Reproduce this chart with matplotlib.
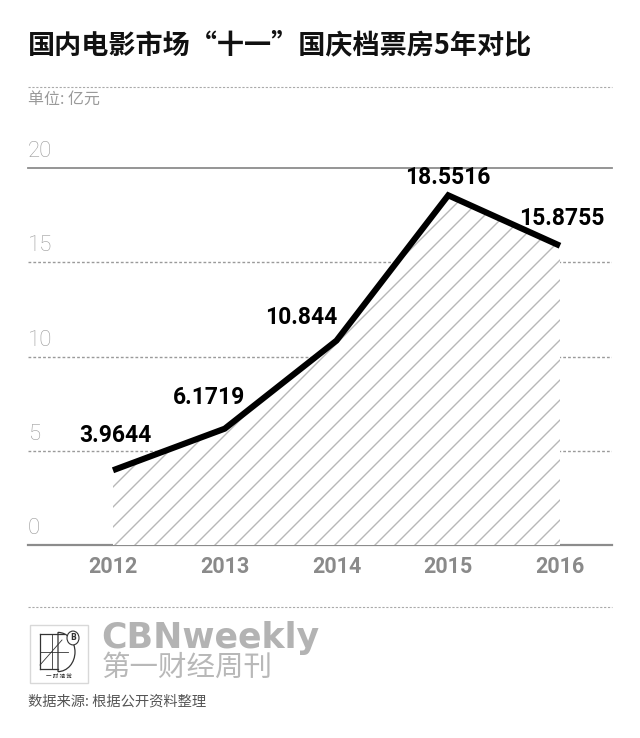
import matplotlib
matplotlib.use("Agg")
import matplotlib.pyplot as plt
from matplotlib.lines import Line2D
from matplotlib.patches import Rectangle, Circle, Wedge
from matplotlib.backend_bases import GraphicsContextBase

# denser hatch spacing (style only)
_orig_ghp = GraphicsContextBase.get_hatch_path
def _ghp(self, density=5.0):
    return _orig_ghp(self, density)
GraphicsContextBase.get_hatch_path = _ghp
plt.rcParams["hatch.linewidth"] = 1.0

years = [2012, 2013, 2014, 2015, 2016]
values = [3.9644, 6.1719, 10.844, 18.5516, 15.8755]
value_labels = ["3.9644", "6.1719", "10.844", "18.5516", "15.8755"]
yticks = [0, 5, 10, 15, 20]

title = "国内电影市场“十一”国庆档票房5年对比"
unit = "单位: 亿元"
source = "数据来源: 根据公开资料整理"

W, H = 640, 738
fig = plt.figure(figsize=(W / 100, H / 100), dpi=100)
fig.patch.set_facecolor("white")

def fx(px):
    return px / W

def fy(py):
    return 1 - py / H

CJK = ["Noto Sans CJK SC", "DejaVu Sans"]

ax = fig.add_axes([fx(28), fy(545), fx(612) - fx(28), fy(168) - fy(545)])
ax.set_ylim(0, 20)
px_per_year = 111.75
ax.set_xlim(2012 - 85 / px_per_year, 2016 + 52 / px_per_year)
for s in ax.spines.values():
    s.set_visible(False)
ax.set_yticks([])
ax.set_xticks(years)
ax.set_xticklabels([str(y) for y in years], fontfamily="Roboto", fontweight="bold",
                   fontsize=15.5, color="#8a8a8a")
ax.tick_params(axis="x", length=0, pad=8)

for t in yticks:
    if t in (0, 20):
        ax.axhline(t, color="#8c8c8c", lw=1.6 if t == 0 else 1.3, zorder=1, clip_on=False)
    else:
        ax.axhline(t, color="#9a9a9a", lw=1.0, ls=(0, (2, 1.5)), zorder=1)
    ax.annotate(str(t), xy=(0, t), xycoords=("axes fraction", "data"),
                xytext=(0, 6), textcoords="offset pixels", ha="left", va="bottom",
                fontsize=16, color="#9a9a9a", fontfamily="Roboto", fontweight="light")

ax.fill_between(years, values, 0, facecolor="white", edgecolor="#b8b8b8",
                hatch="//", linewidth=0, zorder=2)
ax.plot(years, values, color="black", lw=4.4, solid_capstyle="butt",
        solid_joinstyle="miter", zorder=4)

offsets = [(2, 35), (-16, 31), (-35, 23), (0, 18), (2, 27)]
for x, v, lab, (dx, dy) in zip(years, values, value_labels, offsets):
    ax.annotate(lab, xy=(x, v), xytext=(dx, dy), textcoords="offset pixels",
                ha="center", va="center", fontsize=16.5, fontweight="bold",
                fontfamily="Roboto", color="black", zorder=5)

fig.text(fx(28), fy(45), title, fontsize=19.5, fontweight="bold", family=CJK,
         color="#111111", ha="left", va="center")
fig.add_artist(Line2D([fx(28), fx(612)], [fy(87), fy(87)], color="#aaaaaa",
                      lw=0.8, ls=(0, (2, 1.5))))
fig.text(fx(28), fy(99), unit, fontsize=11.5, family=CJK, color="#9a9a9a",
         ha="left", va="center")

fig.add_artist(Line2D([fx(28), fx(612)], [fy(607), fy(607)], color="#aaaaaa",
                      lw=0.8, ls=(0, (2, 1.5))))
fig.add_artist(Rectangle((fx(30), fy(683)), fx(88) - fx(30), fy(625) - fy(683),
                         transform=fig.transFigure, facecolor="white",
                         edgecolor="#d8d8d8", lw=1.0))
lx0, lx1 = fx(40), fx(64)
ly0, ly1 = fy(669), fy(634)
fig.add_artist(Line2D([lx0, lx1], [ly1, ly1], color="#333", lw=0.9))
fig.add_artist(Line2D([lx0, lx0], [ly0, ly1], color="#333", lw=0.9))
fig.add_artist(Line2D([lx0, fx(58)], [ly0, ly0], color="#333", lw=0.9))
fig.add_artist(Line2D([lx0, fx(68)], [fy(652), fy(652)], color="#333", lw=0.6))
fig.add_artist(Line2D([fx(52), fx(52)], [ly0, ly1], color="#333", lw=0.6))
fig.add_artist(Line2D([lx0, fx(62)], [fy(665), fy(640)], color="#333", lw=0.6))
fig.add_artist(Wedge((fx(58), fy(652)), fx(17), -90, 90,
                     transform=fig.transFigure, facecolor="none",
                     edgecolor="#333", lw=0.9))
fig.add_artist(Circle((fx(73), fy(638)), fx(6), transform=fig.transFigure,
                      facecolor="white", edgecolor="#333", lw=0.8))
fig.text(fx(73), fy(638), "B", fontsize=5.5, fontweight="bold", color="#333",
         ha="center", va="center")
fig.text(fx(59), fy(676), "一 财 视 觉", fontsize=4, family=CJK, color="#333",
         ha="center", va="center")

fig.text(fx(101), fy(648), "CBNweekly", fontsize=25, fontweight="bold",
         fontfamily="DejaVu Sans", color="#b3b3b3", ha="left", va="baseline")
fig.text(fx(102), fy(668), "第一财经周刊", fontsize=20.5, family=CJK,
         fontweight="light", color="#b8b8b8", ha="left", va="center")
fig.text(fx(28), fy(702), source, fontsize=10.3, family=CJK, color="#555555",
         ha="left", va="center")

fig.savefig("out.png", dpi=100, facecolor="white")
